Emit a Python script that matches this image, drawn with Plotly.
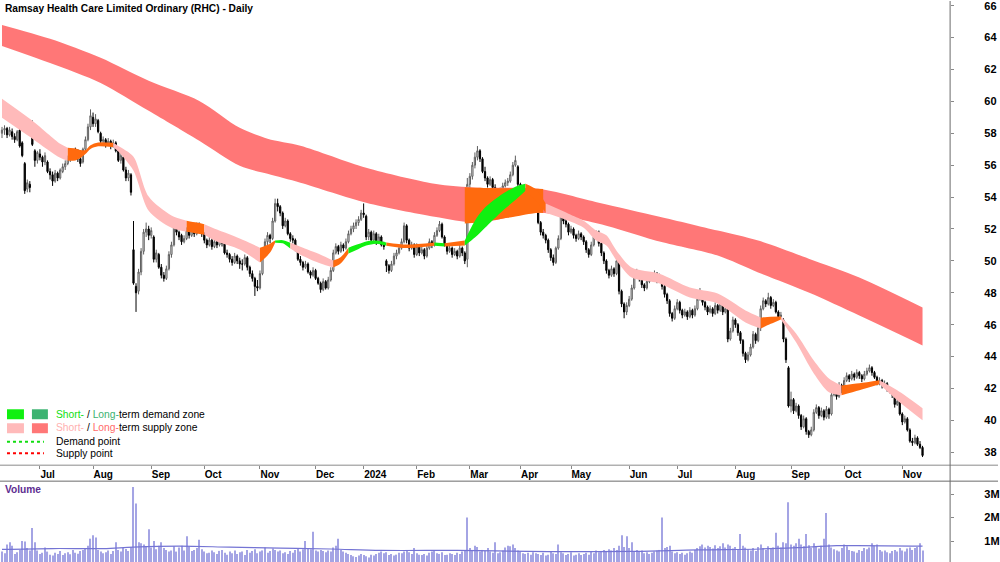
import plotly.graph_objects as go
import pandas as pd

# ---------------- data ----------------
open_ = [
58.0,58.2,58.3,57.9,58.1,57.8,57.6,58.2,57.4,56.1,
54.5,54.8,58.3,56.9,56.3,56.7,56.5,56.2,56.2,55.6,
55.4,55.0,55.5,55.2,55.6,55.9,56.1,56.4,56.6,56.9,
56.8,56.4,56.2,57.0,57.6,58.4,59.0,58.6,58.8,58.0,
57.5,57.6,57.3,57.5,57.2,57.4,56.9,56.3,56.5,55.7,
55.2,55.4,50.7,48.4,48.1,49.3,50.6,51.8,52.0,51.6,
51.5,50.1,50.4,49.6,49.1,48.9,49.5,50.4,51.0,52.2,
51.8,51.6,51.2,51.4,51.9,51.6,52.0,51.7,52.3,52.0,
51.7,51.3,51.0,51.3,50.9,51.2,51.0,51.4,51.1,50.5,
50.4,50.1,49.9,50.3,50.0,49.8,49.8,50.2,49.6,49.2,
48.9,48.4,48.3,49.2,50.5,51.2,51.6,51.4,52.5,53.6,
53.4,53.0,52.2,52.5,51.7,51.4,51.3,50.7,50.1,49.9,
49.6,49.8,49.3,49.1,49.4,48.9,48.6,48.2,48.7,48.3,
48.8,49.4,50.5,50.9,50.6,51.0,50.8,51.2,51.7,52.0,
52.2,52.4,52.6,53.0,52.8,51.5,51.8,51.3,51.7,51.2,
51.5,51.0,50.0,49.7,49.4,49.8,50.3,50.5,50.8,51.2,
52.2,51.3,50.8,51.0,50.4,50.9,50.5,50.7,50.3,50.8,
51.2,51.0,51.6,51.9,52.3,51.5,51.0,50.6,50.8,50.4,
50.6,50.3,50.8,50.5,50.1,54.8,55.3,56.0,56.5,56.9,
56.4,55.6,55.2,54.8,55.1,54.6,54.3,54.0,54.4,54.7,
54.9,55.0,55.4,56.0,55.9,54.8,53.5,54.2,53.4,54.0,
53.8,53.3,53.1,52.4,51.8,51.6,51.3,50.7,50.2,49.9,
50.8,51.4,53.2,52.5,52.3,51.8,52.0,51.6,51.4,51.7,
51.5,51.2,50.7,50.4,51.0,51.5,51.8,51.1,50.5,50.0,
49.4,49.1,49.5,49.2,50.0,48.1,47.3,46.8,47.2,47.6,
48.3,49.0,49.3,48.9,48.5,48.3,48.7,48.9,49.0,49.2,
48.8,49.0,48.4,47.9,47.5,46.7,46.4,47.0,47.4,46.9,
46.6,46.8,46.5,46.9,46.6,47.0,47.6,47.9,47.4,47.1,
46.8,47.0,46.7,47.2,46.9,47.3,46.8,47.0,45.1,45.6,
46.3,46.0,45.5,45.0,44.2,43.8,44.1,44.6,45.4,45.0,
45.8,47.0,47.5,47.3,47.7,47.2,47.4,46.8,46.5,46.3,
45.1,43.3,40.9,41.3,40.6,40.9,40.3,39.6,40.1,39.3,
39.1,39.4,40.5,40.8,40.3,40.6,40.2,40.7,40.4,41.6,
41.9,41.5,42.2,41.9,42.5,42.8,42.6,42.9,42.7,43.0,
42.8,42.6,42.9,43.1,43.3,43.0,42.7,42.3,42.5,42.2,
42.3,42.0,41.9,41.6,41.0,41.2,40.4,39.9,40.1,39.4,
38.7,38.6,38.9,38.5,38.3]

high = [
58.4,58.5,58.4,58.4,58.3,58.0,58.2,58.4,57.5,56.2,
55.1,55.0,58.8,57.0,56.9,57.0,56.6,56.8,56.3,55.8,
55.6,55.7,55.6,55.8,56.1,56.3,56.6,56.8,57.0,57.1,
57.0,56.5,57.1,57.8,58.6,59.5,59.3,59.2,58.9,58.1,
57.8,57.7,57.7,57.6,57.6,57.5,57.0,56.8,56.6,55.9,
55.7,55.5,52.5,48.6,49.5,50.8,52.0,52.4,52.2,52.1,
51.6,50.7,50.5,49.8,49.3,49.7,50.6,51.2,52.4,52.5,
51.9,51.7,51.6,52.1,52.0,52.2,52.1,52.4,52.4,52.1,
51.8,51.4,51.5,51.4,51.4,51.3,51.5,51.5,51.2,50.7,
50.5,50.3,50.5,50.4,50.2,50.1,50.4,50.3,49.7,49.4,
49.0,48.8,49.4,50.7,51.4,51.8,51.7,52.7,53.9,53.9,
53.5,53.1,52.7,52.6,51.8,51.6,51.4,50.8,50.3,50.0,
50.0,49.9,49.4,49.6,49.5,49.0,48.7,48.9,48.8,49.0,
49.6,50.7,51.1,51.0,51.2,51.1,51.4,51.9,52.2,52.4,
52.6,52.8,53.2,53.6,52.9,52.0,51.9,51.9,51.8,51.7,
51.6,51.2,50.1,49.8,50.0,50.5,50.7,51.0,51.4,52.4,
52.3,51.4,51.2,51.1,51.1,51.0,50.9,50.8,51.0,51.4,
51.3,51.8,52.1,52.5,52.4,51.6,51.1,51.0,50.9,50.8,
50.7,51.0,50.9,50.6,55.2,55.5,56.2,56.8,57.2,57.0,
56.5,55.9,55.3,55.3,55.2,54.8,54.5,54.6,54.9,55.1,
55.2,55.6,56.2,56.6,56.0,54.9,54.4,54.3,54.2,54.1,
53.9,54.0,53.2,52.5,52.0,51.7,51.4,50.8,50.4,50.9,
51.6,53.8,53.3,52.7,52.4,52.2,52.1,51.7,51.9,51.8,
51.6,51.3,50.8,51.2,51.7,51.9,51.9,51.2,50.6,50.1,
49.5,49.7,49.6,50.2,50.1,48.2,47.4,47.4,47.8,48.5,
49.2,49.5,49.4,49.0,48.6,48.9,49.1,49.2,49.4,49.3,
49.2,49.1,48.5,48.0,47.6,46.8,47.2,47.6,47.5,47.0,
47.0,46.9,47.1,47.0,47.2,47.8,48.3,48.0,47.5,47.2,
47.2,47.1,47.4,47.3,47.5,47.4,47.2,47.1,45.8,46.5,
46.4,46.1,45.6,45.1,44.3,44.3,44.8,45.6,45.5,46.0,
47.2,47.7,47.6,48.0,47.8,47.6,47.5,46.9,46.8,46.4,
45.2,43.4,41.8,41.4,41.1,41.0,40.4,40.3,40.2,39.4,
39.6,40.7,41.0,40.9,40.8,40.7,40.9,40.8,41.8,42.1,
42.0,42.4,42.3,42.7,43.0,42.9,43.1,43.0,43.2,43.1,
42.9,43.1,43.3,43.5,43.4,43.1,42.8,42.7,42.6,42.5,
42.4,42.1,42.0,41.7,41.4,41.3,40.5,40.3,40.2,39.5,
38.9,39.1,39.0,38.7,38.4]

low = [
57.7,57.9,57.7,57.8,57.6,57.4,57.5,57.1,56.5,54.2,
54.3,54.3,57.2,55.9,56.1,56.3,55.9,56.0,55.5,55.1,
54.7,54.9,55.0,55.1,55.5,55.7,56.0,56.2,56.4,56.5,
56.2,55.9,56.1,56.9,57.5,58.2,58.4,58.4,58.0,57.3,
57.2,57.1,57.2,57.0,57.1,56.8,56.2,56.1,55.6,55.0,
55.0,54.1,48.5,46.8,47.9,49.1,50.4,51.5,51.3,51.4,
49.9,49.9,49.5,48.9,48.7,48.8,49.4,50.2,50.9,51.6,
51.3,51.0,51.1,51.3,51.4,51.5,51.5,51.6,51.8,51.5,
51.1,50.8,50.9,50.7,50.8,50.8,50.9,50.9,50.4,50.2,
49.9,49.7,49.8,49.8,49.5,49.4,49.7,49.4,49.0,48.7,
47.8,48.1,48.2,49.1,50.3,51.0,51.1,51.3,52.4,53.1,
52.8,52.0,52.1,51.6,51.2,51.1,50.6,50.0,49.7,49.4,
49.5,49.2,48.9,49.0,48.8,48.5,48.0,48.1,48.2,48.2,
48.7,49.3,50.4,50.4,50.5,50.6,50.7,51.1,51.6,51.8,
52.0,52.2,52.5,52.7,51.3,51.3,51.1,51.2,51.0,51.1,
50.9,50.7,49.3,49.2,49.3,49.7,50.1,50.4,50.7,51.1,
51.1,50.6,50.7,50.2,50.3,50.3,50.4,50.1,50.2,50.7,
50.8,50.9,51.5,51.8,51.4,50.9,50.4,50.5,50.2,50.3,
50.1,50.2,50.3,49.8,49.6,54.5,55.1,55.8,56.3,56.2,
55.5,55.0,54.6,54.7,54.4,54.1,53.9,53.9,54.3,54.6,
54.7,54.9,55.3,55.9,54.6,53.3,53.4,53.2,53.3,53.6,
53.1,53.2,52.3,51.6,51.4,51.1,50.5,50.0,49.7,49.8,
50.7,51.3,52.3,52.1,51.6,51.7,51.4,51.2,51.3,51.3,
51.0,50.5,50.2,50.3,50.9,51.4,50.9,50.3,49.8,49.2,
48.9,49.0,49.0,49.1,47.9,47.1,46.4,46.6,47.1,47.5,
48.2,48.9,48.7,48.3,48.1,48.2,48.6,48.8,48.9,48.6,
48.7,48.2,47.7,47.3,46.5,46.2,46.3,46.9,46.7,46.4,
46.5,46.3,46.4,46.4,46.5,46.9,47.5,47.2,46.9,46.6,
46.7,46.5,46.6,46.7,46.8,46.6,46.7,44.9,45.0,45.5,
45.8,45.3,44.8,44.0,43.6,43.7,44.0,44.5,44.8,44.9,
45.6,46.9,47.1,47.2,47.0,47.1,46.7,46.3,46.4,44.9,
43.6,40.8,40.5,40.4,40.5,40.1,39.4,39.5,39.1,38.9,
39.0,39.3,40.4,40.1,40.2,40.0,40.1,40.1,40.3,41.5,
41.3,41.4,41.7,41.8,42.4,42.4,42.5,42.5,42.6,42.6,
42.4,42.5,42.8,43.0,42.8,42.6,42.2,42.2,42.0,42.1,
41.8,41.7,41.4,40.8,40.9,40.3,39.7,39.8,39.3,38.6,
38.4,38.5,38.4,38.2,37.7]

close_ = [
58.2,58.3,57.9,58.2,57.8,57.6,58.1,57.2,56.6,54.4,
54.9,54.6,57.3,56.3,56.8,56.5,56.2,56.6,55.6,55.4,
55.0,55.5,55.2,55.7,55.9,56.1,56.4,56.6,56.9,56.7,
56.4,56.1,57.0,57.6,58.4,59.1,58.6,58.9,58.1,57.5,
57.6,57.3,57.5,57.2,57.4,56.9,56.3,56.6,55.7,55.2,
55.5,54.3,48.6,48.0,49.3,50.6,51.8,52.0,51.6,51.9,
50.1,50.5,49.6,49.1,48.9,49.5,50.4,51.0,52.2,51.8,
51.5,51.2,51.4,51.9,51.6,52.0,51.7,52.3,52.0,51.7,
51.3,51.0,51.3,50.9,51.2,51.0,51.4,51.1,50.5,50.4,
50.1,49.9,50.3,50.0,49.8,49.8,50.2,49.6,49.2,48.9,
48.4,48.3,49.2,50.5,51.2,51.6,51.4,52.5,53.6,53.4,
53.0,52.2,52.5,51.7,51.4,51.3,50.7,50.1,49.9,49.6,
49.8,49.3,49.1,49.4,48.9,48.6,48.2,48.7,48.3,48.8,
49.4,50.5,50.9,50.6,51.0,50.8,51.2,51.7,52.0,52.2,
52.4,52.6,53.0,52.9,51.5,51.8,51.3,51.7,51.2,51.5,
51.0,50.9,49.7,49.4,49.8,50.3,50.5,50.8,51.2,52.2,
51.3,50.8,51.0,50.4,50.9,50.5,50.7,50.3,50.8,51.2,
51.0,51.6,51.9,52.3,51.5,51.0,50.6,50.8,50.4,50.6,
50.3,50.8,50.5,50.0,54.8,55.3,56.0,56.5,56.9,56.4,
55.6,55.2,54.8,55.1,54.6,54.3,54.0,54.4,54.7,54.9,
55.0,55.4,56.0,56.3,54.8,53.5,54.2,53.4,54.0,53.8,
53.3,53.8,52.4,51.8,51.6,51.3,50.7,50.2,49.9,50.8,
51.4,53.2,52.5,52.3,51.8,52.0,51.6,51.4,51.7,51.5,
51.2,50.7,50.4,51.0,51.5,51.8,51.1,50.5,50.0,49.4,
49.1,49.5,49.2,50.0,48.1,47.3,46.8,47.2,47.6,48.3,
49.0,49.3,48.9,48.5,48.3,48.7,48.9,49.0,49.2,48.8,
49.0,48.4,47.9,47.5,46.7,46.4,47.0,47.4,46.9,46.6,
46.8,46.5,46.9,46.6,47.0,47.6,47.9,47.4,47.1,46.8,
47.0,46.7,47.2,46.9,47.3,46.8,47.0,45.1,45.6,46.3,
46.0,45.5,45.0,44.2,43.8,44.1,44.6,45.4,45.0,45.8,
47.0,47.5,47.3,47.7,47.2,47.4,46.8,46.5,46.6,45.1,
43.8,40.9,41.3,40.6,40.9,40.3,39.6,40.1,39.3,39.1,
39.4,40.5,40.8,40.3,40.6,40.2,40.7,40.4,41.6,41.9,
41.5,42.2,41.9,42.5,42.8,42.6,42.9,42.7,43.0,42.8,
42.6,42.9,43.1,43.3,43.0,42.7,42.3,42.5,42.2,42.3,
42.0,41.9,41.6,41.0,41.2,40.4,39.9,40.1,39.4,38.7,
38.6,38.9,38.5,38.3,37.8]

volume_m = [
0.55,0.48,0.85,0.95,0.80,0.45,0.52,0.62,1.00,0.98,
0.70,0.60,1.55,0.95,0.60,0.45,0.50,0.72,0.55,0.42,
0.38,0.50,0.45,0.58,0.40,0.48,0.52,0.44,0.62,0.50,
0.46,0.58,0.62,0.70,0.80,1.10,1.25,1.15,0.62,0.55,
0.48,0.52,0.60,0.45,0.58,0.95,0.62,0.55,0.70,0.66,
0.58,0.75,3.30,2.60,0.95,0.90,0.85,0.75,1.50,0.72,
1.00,0.65,0.80,0.95,0.70,0.62,0.55,0.60,0.78,0.55,
0.72,0.80,0.60,1.20,0.75,0.58,0.62,0.70,1.05,0.65,
0.55,0.48,0.50,0.60,0.52,0.45,0.58,0.62,0.50,0.42,
0.55,0.48,0.60,0.45,0.52,0.55,0.40,0.62,0.50,0.58,
0.65,0.48,0.55,0.60,0.72,0.50,0.58,0.68,0.62,0.55,
0.60,0.48,0.52,0.45,0.58,0.50,0.62,0.70,0.55,0.65,
1.00,0.70,0.65,1.40,0.60,0.55,0.62,0.58,0.52,0.60,
0.55,0.72,0.80,1.10,0.62,0.55,0.50,0.45,0.40,0.35,
0.32,0.38,0.45,0.40,0.35,0.30,0.42,0.38,0.45,0.50,
0.55,0.48,0.52,0.40,0.45,0.38,0.42,0.50,0.48,0.55,
0.60,0.52,0.45,0.70,0.48,0.42,0.40,0.45,0.38,0.50,
0.55,0.62,0.48,0.45,0.52,0.40,0.42,0.48,0.45,0.40,
0.50,0.45,0.55,0.58,2.00,0.70,0.62,0.80,0.75,0.55,
0.62,0.58,0.70,0.55,0.50,0.95,0.48,0.52,0.60,0.72,
0.80,0.78,0.85,0.70,0.60,0.55,0.48,0.45,0.50,0.42,
0.52,0.48,0.45,0.40,0.50,0.38,0.42,0.55,0.48,0.45,
0.85,0.52,0.48,0.40,0.45,0.52,0.38,0.42,0.48,0.40,
0.45,0.50,0.42,0.55,0.48,0.60,0.52,0.58,0.62,0.55,
0.65,0.60,0.70,0.62,0.80,1.25,0.75,1.20,0.70,0.95,
0.58,0.62,0.55,0.60,0.48,0.52,0.45,0.50,0.55,0.60,
0.62,2.00,0.70,0.75,0.80,0.55,0.48,0.52,0.45,0.50,
0.42,0.48,0.55,0.50,0.62,0.70,0.78,0.85,0.72,0.80,
0.75,0.68,0.82,0.70,0.78,0.90,0.72,0.85,0.80,0.68,
0.75,0.62,1.30,0.80,0.72,0.65,0.60,0.70,0.58,0.75,
0.85,0.70,0.62,0.78,0.68,0.72,1.35,0.80,0.72,0.95,
0.90,2.65,0.85,0.80,0.90,1.10,0.85,0.78,1.30,0.82,
0.70,0.90,0.75,0.68,0.80,1.10,2.20,0.85,0.72,0.65,
0.60,0.55,0.70,0.85,0.78,0.62,0.58,0.55,0.50,0.62,
0.58,0.70,0.65,0.72,0.90,0.80,0.85,0.62,0.55,0.60,
0.52,0.48,0.58,0.62,0.55,0.70,0.60,0.55,0.68,0.72,
0.62,0.70,0.75,0.90,0.60]

# volume moving average (sampled)
vma_i = [0, 20, 40, 52, 70, 90, 110, 130, 150, 180, 195, 220, 250, 275, 300, 315, 330, 364]
vma_v = [0.64, 0.68, 0.68, 0.74, 0.78, 0.74, 0.70, 0.66, 0.60, 0.60, 0.58, 0.55, 0.56, 0.62, 0.66, 0.72, 0.80, 0.78]

# long-term supply zone (trading-day index, upper, lower)
lt_i   = [0, 19, 39, 58, 78, 94, 105, 118, 144, 171, 188, 212, 236, 260, 283, 299, 319, 339, 364]
lt_top = [64.79, 63.92, 62.73, 61.29, 60.03, 58.34, 57.66, 57.22, 55.84, 54.84, 54.59, 54.52, 53.65, 52.77, 51.90, 51.27, 50.14, 48.96, 47.08]
lt_bot = [63.48, 62.41, 61.16, 59.41, 57.53, 55.96, 55.46, 54.90, 53.65, 52.77, 52.40, 53.02, 52.33, 51.21, 50.33, 49.27, 48.01, 46.57, 44.70]

# part of the long-term zone shown in orange
lto_i   = [183, 188, 200, 212, 214]
lto_top = [54.62, 54.59, 54.55, 54.52, 54.50]
lto_bot = [52.35, 52.40, 52.70, 53.02, 53.00]

# short-term zone: index, upper, lower, state until next point
st_i = [0, 12, 23, 26, 29, 31, 33, 35, 38, 44, 46, 52, 58, 67, 73, 77, 80, 85, 94, 102, 106, 108, 111,
        114, 118, 126, 131, 134, 137, 141, 144, 148, 152, 160, 171, 175, 183, 187, 191, 198, 204, 207,
        211, 215, 224, 230, 235, 239, 243, 249, 260, 272, 283, 294, 300, 304, 308, 314, 321, 327, 332,
        339, 347, 354, 364]
st_top = [60.16, 58.78, 57.34, 57.09, 57.05, 56.95, 56.95, 57.25, 57.42, 57.40, 57.20, 56.53, 54.03, 52.84,
          52.52, 52.40, 52.30, 51.96, 51.40, 50.83, 51.08, 51.27, 51.30, 51.14, 50.89, 50.39, 50.02, 50.25,
          50.83, 51.05, 51.21, 51.27, 51.15, 51.02, 51.15, 51.10, 51.27, 52.52, 53.34, 54.21, 54.71, 54.84,
          54.50, 53.59, 52.96, 52.52, 51.90, 51.60, 50.64, 49.58, 49.20, 48.33, 47.95, 46.89, 46.45, 46.50,
          46.51, 45.45, 43.76, 42.63, 42.19, 42.32, 42.51, 41.88, 40.76]
st_bot = [58.97, 57.66, 56.46, 56.28, 56.30, 56.45, 56.70, 57.02, 57.18, 57.12, 56.85, 55.65, 53.15, 52.08,
          51.83, 51.72, 51.64, 51.21, 50.71, 49.89, 50.52, 51.14, 51.10, 50.77, 50.39, 49.83, 49.58, 49.85,
          50.46, 50.75, 50.96, 51.08, 50.95, 50.80, 50.95, 50.90, 50.96, 51.46, 52.08, 53.15, 53.96, 54.40,
          53.80, 53.02, 52.52, 52.08, 51.27, 50.96, 50.02, 48.95, 48.58, 47.70, 47.33, 46.14, 45.76, 46.05,
          46.33, 44.89, 42.94, 41.76, 41.57, 41.88, 42.26, 41.26, 40.00]
st_state = ["s", "s", "s", "o", "o", "o", "o", "o", "o", "s", "s", "s", "s", "s",
            "o", "o", "s", "s", "s", "o", "o", "d", "d", "s", "s", "s", "o", "o",
            "d", "d", "d", "d", "o", "o", "d", "o", "d", "d", "d", "d", "d", "o",
            "o", "s", "s", "s", "s", "s", "s", "s", "s", "s", "s", "s", "o", "o",
            "s", "s", "s", "s", "o", "o", "s", "s", "s"]

price_ticks = list(range(38, 67, 2))
vol_ticks = [1, 2, 3]
vol_tick_text = ["1M", "2M", "3M"]

holidays = ["2023-06-12", "2023-12-25", "2023-12-26", "2024-01-01", "2024-01-26",
            "2024-03-29", "2024-04-01", "2024-04-25", "2024-06-10"]
dates = [d for d in pd.bdate_range("2023-06-09", "2024-11-13") if d.strftime("%Y-%m-%d") not in holidays]
N = len(close_)
idx = list(range(N))

tickvals, ticktext = [], []
for i in range(1, len(dates)):
    if dates[i].month != dates[i - 1].month:
        tickvals.append(i)
        ticktext.append(str(dates[i].year) if dates[i].month == 1 else dates[i].strftime("%b"))

# ---------------- style ----------------
W, H = 1000, 562
FONT = "Liberation Sans, Arial, sans-serif"
COL = {"s": "#FFBABA", "o": "#FF6A0E", "d": "#10F010"}
LT_COL = "#FF7777"
X_RANGE = [-0.79, 374.9]
PRICE_DOM = [1 - 465 / H, 1]
VOL_DOM = [0, 1 - 481 / H]


def px(x):
    return x / W


def py(y):
    return 1 - y / H


fig = go.Figure()


def band(xs, top, bot, color):
    fig.add_trace(go.Scatter(x=xs, y=bot, mode="lines", line=dict(width=0, shape="spline", smoothing=0.8),
                             hoverinfo="skip", showlegend=False, xaxis="x", yaxis="y"))
    fig.add_trace(go.Scatter(x=xs, y=top, mode="lines", line=dict(width=0, shape="spline", smoothing=0.8),
                             fill="tonexty", fillcolor=color, hoverinfo="skip", showlegend=False,
                             xaxis="x", yaxis="y"))


band(lt_i, lt_top, lt_bot, LT_COL)
band(lto_i, lto_top, lto_bot, COL["o"])

# short-term zone in runs of the same state
start = 0
n = len(st_i)
for k in range(1, n):
    if k == n - 1 or st_state[k] != st_state[start]:
        band(st_i[start:k + 1], st_top[start:k + 1], st_bot[start:k + 1], COL[st_state[start]])
        start = k

fig.add_trace(go.Candlestick(
    x=idx, open=open_, high=high, low=low, close=close_,
    increasing=dict(line=dict(color="#5E5E5E", width=1), fillcolor="#FFFFFF"),
    decreasing=dict(line=dict(color="#000000", width=1), fillcolor="#000000"),
    whiskerwidth=0, hoverinfo="skip", showlegend=False, xaxis="x", yaxis="y"))

fig.add_trace(go.Bar(x=idx, y=volume_m, width=0.42, marker=dict(color="#A4A4E4", line=dict(width=0)),
                     hoverinfo="skip", showlegend=False, xaxis="x2", yaxis="y2"))
fig.add_trace(go.Scatter(x=vma_i, y=vma_v, mode="lines", line=dict(color="#7474D4", width=1.2, shape="spline"),
                         hoverinfo="skip", showlegend=False, xaxis="x2", yaxis="y2"))

axis_font = dict(family=FONT, size=10, color="#000000", weight="bold")

fig.update_layout(
    width=W, height=H, margin=dict(l=0, r=0, t=0, b=0),
    paper_bgcolor="white", plot_bgcolor="white", showlegend=False, hovermode=False,
    xaxis=dict(domain=[0, 0.952], range=X_RANGE, anchor="y", tickmode="array", tickvals=tickvals,
               ticktext=ticktext, ticks="outside", ticklen=3, tickcolor="#888888",
               ticklabelposition="outside right", tickfont=axis_font, showgrid=False, zeroline=False,
               showline=False, rangeslider=dict(visible=False), fixedrange=True),
    yaxis=dict(domain=PRICE_DOM, range=[37.19, 66.294], side="right", anchor="x", tickmode="array",
               tickvals=price_ticks, ticks="outside", ticklen=3, tickcolor="#888888",
               tickfont=dict(family=FONT, size=11, color="#000000", weight="bold"),
               ticklabelstandoff=28, ticklabeloverflow="allow", showgrid=False, zeroline=False,
               showline=False),
    xaxis2=dict(domain=[0, 0.952], range=X_RANGE, anchor="y2", matches="x", showticklabels=False,
                ticks="", showgrid=False, zeroline=False, showline=False),
    yaxis2=dict(domain=VOL_DOM, range=[0.106, 3.553], side="right", anchor="x2", tickmode="array",
                tickvals=vol_ticks, ticktext=vol_tick_text, ticks="outside", ticklen=3, tickcolor="#888888",
                tickfont=dict(family=FONT, size=11, color="#000000", weight="bold"),
                ticklabelstandoff=28, ticklabeloverflow="allow", showgrid=False, zeroline=False,
                showline=False),
)

shapes = [
    dict(type="line", xref="paper", yref="paper", x0=0, x1=1, y0=py(465), y1=py(465),
         line=dict(color="#8A8A8A", width=1)),
    dict(type="line", xref="paper", yref="paper", x0=0, x1=1, y0=py(481), y1=py(481),
         line=dict(color="#6A6A6A", width=1)),
    dict(type="line", xref="paper", yref="paper", x0=0.952, x1=0.952, y0=0, y1=1,
         line=dict(color="#6A6A6A", width=1)),
    # legend swatches
    dict(type="rect", xref="paper", yref="paper", x0=px(7), x1=px(24), y0=py(419), y1=py(409),
         fillcolor="#10F010", line=dict(width=0)),
    dict(type="rect", xref="paper", yref="paper", x0=px(32), x1=px(48), y0=py(419), y1=py(409),
         fillcolor="#3CB371", line=dict(width=0)),
    dict(type="rect", xref="paper", yref="paper", x0=px(7), x1=px(24), y0=py(433), y1=py(423),
         fillcolor="#FFBABA", line=dict(width=0)),
    dict(type="rect", xref="paper", yref="paper", x0=px(32), x1=px(48), y0=py(433), y1=py(423),
         fillcolor=LT_COL, line=dict(width=0)),
    dict(type="line", xref="paper", yref="paper", x0=px(7), x1=px(44), y0=py(441.5), y1=py(441.5),
         line=dict(color="#10DD10", width=2, dash="dot")),
    dict(type="line", xref="paper", yref="paper", x0=px(7), x1=px(44), y0=py(453), y1=py(453),
         line=dict(color="#FF0000", width=2, dash="dot")),
]
fig.update_layout(shapes=shapes)

leg_font = dict(family=FONT, size=10.3, color="#000000")
annotations = [
    dict(text="<b>Ramsay Health Care Limited Ordinary (RHC) - Daily</b>", x=px(3), y=py(7.5),
         xref="paper", yref="paper", xanchor="left", yanchor="middle", showarrow=False,
         font=dict(family=FONT, size=10.2, color="#000000")),
    dict(text="<b>Volume</b>", x=px(3), y=py(489.5), xref="paper", yref="paper", xanchor="left",
         yanchor="middle", showarrow=False, font=dict(family=FONT, size=10.2, color="#5E2D91")),
    dict(text="<span style='color:#10E010'>Short-</span> / <span style='color:#3CB371'>Long-</span>term demand zone",
         x=px(54), y=py(414), xref="paper", yref="paper", xanchor="left", yanchor="middle",
         showarrow=False, font=leg_font),
    dict(text="<span style='color:#FFB0B0'>Short-</span> / <span style='color:#FF6B6B'>Long-</span>term supply zone",
         x=px(54), y=py(427.5), xref="paper", yref="paper", xanchor="left", yanchor="middle",
         showarrow=False, font=leg_font),
    dict(text="Demand point", x=px(54), y=py(441), xref="paper", yref="paper", xanchor="left",
         yanchor="middle", showarrow=False, font=leg_font),
    dict(text="Supply point", x=px(54), y=py(453), xref="paper", yref="paper", xanchor="left",
         yanchor="middle", showarrow=False, font=leg_font),
]
fig.update_layout(annotations=annotations)

fig.write_html("out.html")
